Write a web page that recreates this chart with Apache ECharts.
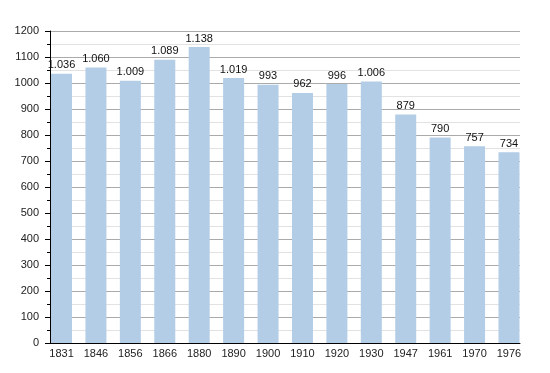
<!DOCTYPE html>
<html><head><meta charset="utf-8">
<script src="https://cdn.jsdelivr.net/npm/echarts@6/dist/echarts.min.js"></script>
<style>html,body{margin:0;padding:0;background:#fff}#c{width:550px;height:373px}</style>
</head><body><div id="c"></div>
<script>
const years = ['1831','1846','1856','1866','1880','1890','1900','1910','1920','1930','1947','1961','1970','1976'];
const population = [1036,1060,1009,1089,1138,1019,993,962,996,1006,879,790,757,734];
const yTicks = {min:0, max:1200, interval:100};

function fmt(v){ return v>=1000 ? Math.floor(v/1000)+'.'+String(v%1000).padStart(3,'0') : String(v); }
const font = 'Liberation Sans, Arial, sans-serif';

const chart = echarts.init(document.getElementById('c'), null, {renderer:'canvas'});
chart.setOption({
  animation:false,
  grid:[{left:50, right:30, top:31, bottom:30},
        {left:44.3, right:23.8, top:31, bottom:30}],
  xAxis:[
    {type:'category', gridIndex:0, data:years, axisLine:{lineStyle:{color:'#000', width:1}},
     axisTick:{show:false}, axisLabel:{show:false}, splitLine:{show:false}},
    {type:'category', gridIndex:1, data:years, axisLine:{show:false}, axisTick:{show:false},
     axisLabel:{color:'#222', fontFamily:font, fontSize:11, margin:5}}
  ],
  yAxis:[
    {type:'value', gridIndex:0, min:yTicks.min, max:yTicks.max, interval:yTicks.interval,
     axisLine:{show:true, lineStyle:{color:'#000', width:1}},
     axisTick:{show:true, inside:false, length:5, lineStyle:{color:'#000'}},
     minorTick:{show:true, splitNumber:2, length:3, lineStyle:{color:'#000'}},
     splitLine:{show:true, lineStyle:{color:'#aaa', width:1}},
     minorSplitLine:{show:true, lineStyle:{color:'#e2e2e2', width:1}},
     axisLabel:{color:'#222', fontFamily:font, fontSize:11, margin:11, formatter:v=>String(v)}},
    {type:'value', gridIndex:1, min:yTicks.min, max:yTicks.max, interval:yTicks.interval, show:false}
  ],
  series:[{type:'bar', xAxisIndex:1, yAxisIndex:1, data:population, barWidth:21,
    itemStyle:{color:'#b3cde6'},
    label:{show:true, position:'top', distance:3, color:'#111', fontFamily:font, fontSize:11,
      formatter:p=>fmt(p.value)}}]
});
</script></body></html>
